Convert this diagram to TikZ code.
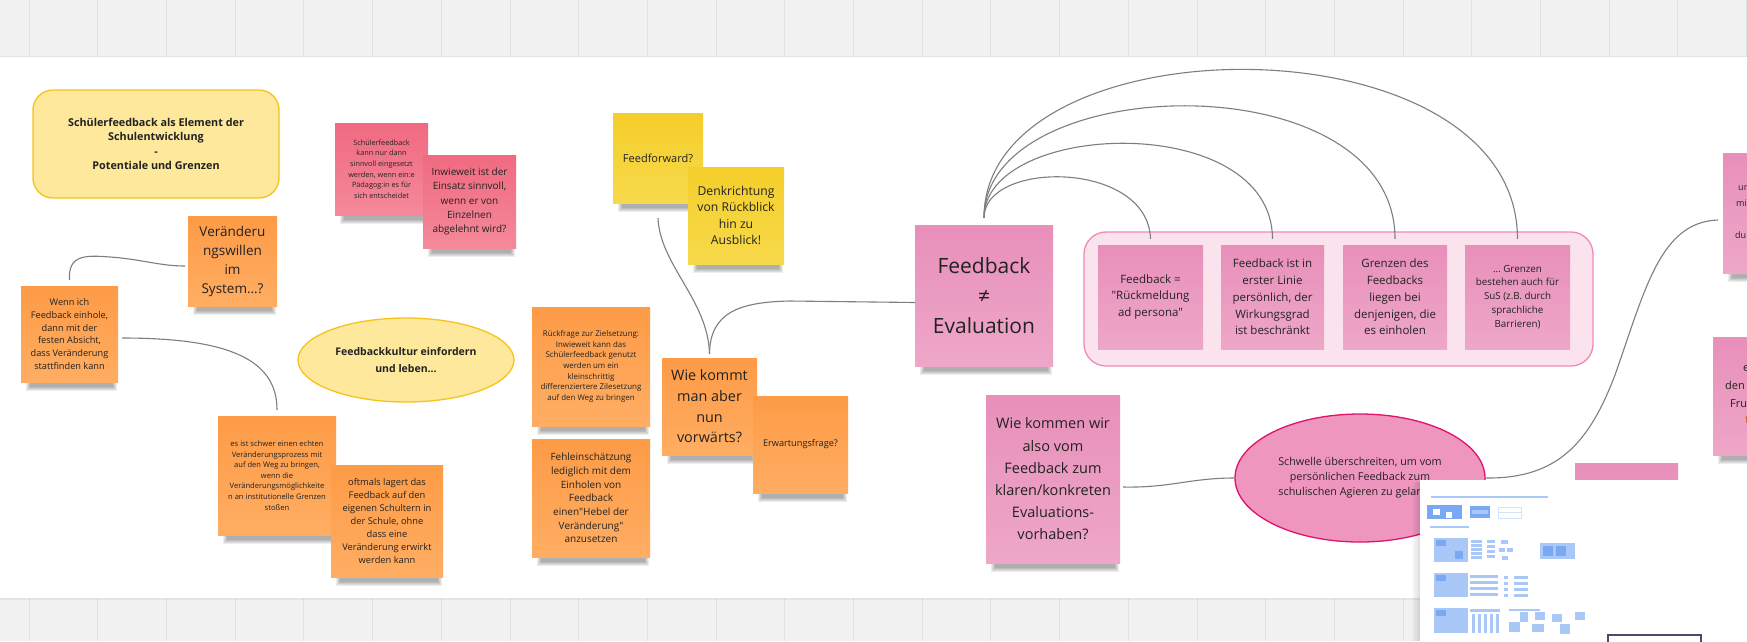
\documentclass[tikz,border=0pt]{standalone}
\usepackage{fontspec}
\setmainfont{Open Sans}[Ligatures=TeXOff]
\usetikzlibrary{shapes.geometric,calc}
\pgfdeclarelayer{bg}
\pgfsetlayers{bg,main}
\definecolor{ink}{HTML}{222222}
\definecolor{gridband}{HTML}{F1F1F1}
\definecolor{gridline}{HTML}{E0E0E0}
\definecolor{or1}{HTML}{FD9B46}
\definecolor{or2}{HTML}{FFAD63}
\definecolor{rd1}{HTML}{F06A80}
\definecolor{rd2}{HTML}{F4899A}
\definecolor{ye1}{HTML}{F4CE2A}
\definecolor{ye2}{HTML}{F7D94B}
\definecolor{pk1}{HTML}{E88FBA}
\definecolor{pk2}{HTML}{EEA7C8}
\definecolor{lightyellow}{HTML}{FDE89C}
\definecolor{goldline}{HTML}{F6C21C}
\definecolor{boxfill}{HTML}{FBE3EE}
\definecolor{boxline}{HTML}{EF8AB6}
\definecolor{ellfill}{HTML}{EF96BF}
\definecolor{ellline}{HTML}{E0126A}
\definecolor{conngray}{HTML}{7E7E7E}
\definecolor{bl1}{HTML}{A9C8F7}
\definecolor{bl2}{HTML}{7AA8F2}
\definecolor{bl3}{HTML}{D3E3FB}
\definecolor{panelrect}{HTML}{4A4A6A}
\definecolor{rusttext}{HTML}{C8642A}
\newcommand\fsz[2]{\fontsize{#1}{#2}\selectfont}
\newcommand\noteshadow[1]{%
\begin{pgfonlayer}{bg}
\foreach \k in {0,...,4}{
\fill[black,opacity=0.07] ([xshift={(5+\k)*1pt},yshift=3pt]#1.south west) rectangle ([xshift={-(1+\k)*1pt},yshift={-(9-\k)*1pt}]#1.south east);
}
\end{pgfonlayer}}
\tikzset{
  notesize/.style 2 args={minimum width=#1pt, minimum height=#2pt},
  note/.style={rectangle, inner sep=1pt, align=center, text=ink},
  orangenote/.style={note, top color=or1, bottom color=or2},
  rednote/.style={note, top color=rd1, bottom color=rd2},
  yellownote/.style={note, top color=ye1, bottom color=ye2},
  pinknote/.style={note, top color=pk1, bottom color=pk2},
  titlebox/.style={rectangle, rounded corners=20pt, fill=lightyellow, draw=goldline, line width=1.3pt, align=center, text=ink},
  yellowell/.style={ellipse, fill=lightyellow, draw=goldline, line width=1.3pt, align=center, text=ink, inner sep=0pt},
  pinkell/.style={ellipse, fill=ellfill, draw=ellline, line width=1.3pt, align=center, text=ink, inner sep=0pt},
  groupbox/.style={rectangle, rounded corners=22pt, fill=boxfill, draw=boxline, line width=1.3pt},
  conn/.style={draw=conngray, line width=1.1pt},
  fragment/.style={anchor=base west, inner sep=0pt, text=ink},
}
\begin{document}
\begin{tikzpicture}[x=1pt,y=-1pt]
\useasboundingbox (0,0) rectangle (1747,641);
\clip (0,0) rectangle (1747,641);
\begin{pgfonlayer}{bg}
\fill[gridband] (0,0) rectangle (1747,641);
\foreach \g in {0,...,25}{
  \draw[gridline, line width=0.8pt] ({29+68.7*\g},0) -- ({29+68.7*\g},641);
}
\fill[black,opacity=0.05] (0,56) rectangle (1747,600);
\fill[white] (0,57) rectangle (1747,598);
\end{pgfonlayer}

% title
\node[titlebox, minimum width=246pt, minimum height=108pt, font=\bfseries\fsz{10.8}{14.3}] (title) at (156,144)
  {Schülerfeedback als Element der\\Schulentwicklung\\-\\Potentiale und Grenzen};

% red notes
\node[rednote, notesize={93}{92}, font=\fsz{7.3}{10.7}] (p1) at (381.5,169)
  {Schülerfeedback\\kann nur dann\\sinnvoll eingesetzt\\werden, wenn ein:e\\Pädagog:in es für\\sich entscheidet};
\noteshadow{p1}
\node[rednote, notesize={93}{93}, font=\fsz{10}{14.2}] (p2) at (469.5,201.5)
  {Inwieweit ist der\\Einsatz sinnvoll,\\wenn er von\\Einzelnen\\abgelehnt wird?};
\noteshadow{p2}

% orange notes left
\node[orangenote, notesize={89}{90}, font=\fsz{13.5}{19}] (o1) at (232.5,261)
  {Veränderu\\ngswillen\\im\\System…?};
\noteshadow{o1}
\node[orangenote, notesize={97}{96}, font=\fsz{9.2}{12.7}] (o2) at (69.5,334)
  {Wenn ich\\Feedback einhole,\\dann mit der\\festen Absicht,\\dass Veränderung\\stattfinden kann};
\noteshadow{o2}

\node[yellowell, minimum width=216pt, minimum height=84pt, font=\bfseries\fsz{10.5}{17}] (kultur) at (406,360)
  {Feedbackkultur einfordern\\und leben...};

\node[orangenote, notesize={118}{119}, font=\fsz{7.6}{10.6}] (o3) at (277,475.5)
  {es ist schwer einen echten\\Veränderungsprozess mit\\auf den Weg zu bringen,\\wenn die\\Veränderungsmöglichkeite\\n an institutionelle Grenzen\\stoßen};
\noteshadow{o3}
\node[orangenote, notesize={112}{112}, font=\fsz{9.3}{12.9}] (o4) at (387,521)
  {oftmals lagert das\\Feedback auf den\\eigenen Schultern in\\der Schule, ohne\\dass eine\\Veränderung erwirkt\\werden kann};
\noteshadow{o4}

% middle
\node[orangenote, notesize={118}{119}, font=\fsz{7.9}{10.6}] (o5) at (591,366.5)
  {Rückfrage zur Zielsetzung:\\Inwieweit kann das\\Schülerfeedback genutzt\\werden um ein\\kleinschrittig\\differenziertere Zilesetzung\\auf den Weg zu bringen};
\noteshadow{o5}
\node[orangenote, notesize={118}{118}, font=\fsz{10}{13.7}] (o6) at (591,498)
  {Fehleinschätzung\\lediglich mit dem\\Einholen von\\Feedback\\einen"Hebel der\\Veränderung"\\anzusetzen};
\noteshadow{o6}

\node[yellownote, notesize={90}{90}, font=\fsz{11}{15}] (y1) at (658,158) {Feedforward?};
\noteshadow{y1}
\node[yellownote, notesize={96}{97}, font=\fsz{12.2}{16.3}] (y2) at (736,215.5)
  {Denkrichtung\\von Rückblick\\hin zu\\Ausblick!};
\noteshadow{y2}

\node[orangenote, notesize={95}{97}, font=\fsz{14.4}{20.6}] (o7) at (709.5,406.5)
  {Wie kommt\\man aber\\nun\\vorwärts?};
\noteshadow{o7}
\node[orangenote, notesize={95}{97}, font=\fsz{9.2}{12}] (o8) at (800.5,444.5) {Erwartungsfrage?};
\noteshadow{o8}

% Feedback != Evaluation
\node[pinknote, notesize={138}{141}, font=\fsz{21}{30}] (fe) at (984,295.5)
  {Feedback\\≠\\Evaluation};
\noteshadow{fe}

\node[groupbox, minimum width=509pt, minimum height=134pt] (grp) at (1338.5,299) {};
\node[pinknote, notesize={105}{104}, font=\fsz{11.5}{16.7}] (s1) at (1150.5,297)
  {Feedback =\\"Rückmeldung\\ad persona"};
\noteshadow{s1}
\node[pinknote, notesize={103}{104}, font=\fsz{11.5}{16.8}] (s2) at (1272.5,297)
  {Feedback ist in\\erster Linie\\persönlich, der\\Wirkungsgrad\\ist beschränkt};
\noteshadow{s2}
\node[pinknote, notesize={104}{104}, font=\fsz{11.5}{16.8}] (s3) at (1395,297)
  {Grenzen des\\Feedbacks\\liegen bei\\denjenigen, die\\es einholen};
\noteshadow{s3}
\node[pinknote, notesize={105}{104}, font=\fsz{9.8}{13.8}] (s4) at (1517.5,297)
  {… Grenzen\\bestehen auch für\\SuS (z.B. durch\\sprachliche\\Barrieren)};
\noteshadow{s4}

\node[pinknote, notesize={134}{168}, font=\fsz{14.5}{22.2}] (wk) at (1053,479)
  {Wie kommen wir\\also vom\\Feedback zum\\klaren/konkreten\\Evaluations-\\vorhaben?};
\noteshadow{wk}

\node[pinkell, minimum width=250pt, minimum height=128pt, font=\fsz{10.8}{15}] (el) at (1360,478)
  {Schwelle überschreiten, um vom\\persönlichen Feedback zum\\schulischen Agieren zu gelangen};

% right edge notes (cut off)
\node[pinknote, notesize={47}{120}] (r1) at (1746.5,213) {};
\noteshadow{r1}
\node[fragment, font=\fsz{9}{12}] (r1a) at (1738,190) {un};
\node[fragment, font=\fsz{9}{12}] (r1b) at (1736,206) {mi};
\node[fragment, font=\fsz{9}{12}] (r1c) at (1735,238) {du};
\node[pinknote, notesize={57}{118}] (r2) at (1741.5,396) {};
\noteshadow{r2}
\node[fragment, font=\fsz{11}{14}] (r2a) at (1743,371) {e};
\node[fragment, font=\fsz{11}{14}] (r2b) at (1725,389) {den};
\node[fragment, font=\fsz{11}{14}] (r2c) at (1730,407) {Fru};
\node[fragment, font=\fsz{11}{14}, text=rusttext] (r2d) at (1745,423) {t};
\node[pinknote, notesize={103}{96}] (r3) at (1626.5,511) {};

% connectors
\draw[conn] ([yshift=6pt]o2.north) .. controls (68,255) and (85,255) .. (110,257)
  .. controls (140,259) and (160,266) .. ([xshift=-3pt,yshift=-5pt]o1.west);
\draw[conn] ([xshift=4pt,yshift=-4pt]o2.east) .. controls (230,338) and (277,360) .. ([yshift=6pt]o3.north);
\draw[conn] ([yshift=-15pt]y1.south) .. controls (660,265) and (708,300) .. ([yshift=4pt]o7.north);
\draw[conn] ([yshift=4pt]o7.north) .. controls (710,312) and (740,302) .. (790,301) -- ([yshift=-7pt]fe.west);
\draw[conn] ([yshift=7pt]fe.north) .. controls (984,160) and (1148,160) .. ([yshift=6pt]s1.north);
\draw[conn] ([yshift=7pt]fe.north) .. controls (984,120) and (1272,110) .. ([yshift=6pt]s2.north);
\draw[conn] ([yshift=7pt]fe.north) .. controls (984,70) and (1395,60) .. ([yshift=6pt]s3.north);
\draw[conn] ([yshift=7pt]fe.north) .. controls (984,18) and (1517,15) .. ([yshift=6pt]s4.north);
\draw[conn] ([xshift=3pt,yshift=-8pt]wk.east) .. controls (1170,488) and (1190,478) .. (el.west);
\draw[conn] (el.east) .. controls (1560,479) and (1590,440) .. (1615,375)
  .. controls (1645,290) and (1660,222) .. ([xshift=-5pt,yshift=-7pt]r1.west);

% template panel (covering)
\foreach \k in {1,...,5}{
  \fill[black,opacity=0.025] ({1420-\k*1.6},482) rectangle (1420,641);
}
\fill[white] (1420,480) rectangle (1747,641);
\draw[bl1, line width=1.5pt] (1431,497) -- (1548,497);
\fill[bl2] (1427,505) rectangle (1462,519);
\fill[white] (1433,509) rectangle (1440,515);
\fill[white] (1446,512) rectangle (1452,518);
\fill[bl2] (1470,506) rectangle (1490,518);
\fill[bl1] (1472,510) rectangle (1488,514);
\draw[bl3, line width=1pt] (1498,507) rectangle (1521,518);
\draw[bl3, line width=1pt] (1498,512) -- (1521,512);
\draw[bl1, line width=1.2pt] (1430,527) -- (1469,527);
% row 1
\fill[bl1] (1434,538) rectangle (1468,562);
\fill[bl2] (1436,540) rectangle (1446,546);
\fill[bl2] (1455,551) rectangle (1463,559);
\foreach \yy in {540,544,...,556}{ \fill[bl1] (1471,\yy) rectangle (1482,{\yy+2.5}); }
\foreach \yy in {540,545,...,555}{ \fill[bl1] (1487,\yy) rectangle (1495,{\yy+3}); }
\fill[bl1] (1501,540) rectangle (1508,544);
\fill[bl1] (1499,548) rectangle (1505,552);
\fill[bl1] (1507,548) rectangle (1513,552);
\fill[bl1] (1502,556) rectangle (1508,560);
\fill[bl1] (1540,543) rectangle (1575,559);
\fill[bl2] (1543,546) rectangle (1553,556);
\fill[bl2] (1556,546) rectangle (1566,556);
% row 2
\fill[bl1] (1434,573) rectangle (1468,597);
\fill[bl2] (1436,575) rectangle (1446,581);
\foreach \yy in {575,581,...,593}{ \fill[bl1] (1470,\yy) rectangle (1498,{\yy+3}); }
\foreach \yy in {576,582,...,594}{ \fill[bl1] (1504,\yy) rectangle (1508,{\yy+3}); \fill[bl1] (1514,\yy) rectangle (1528,{\yy+3}); }
% row 3
\fill[bl1] (1434,608) rectangle (1468,633);
\fill[bl2] (1436,610) rectangle (1446,616);
\fill[bl1] (1470,609) rectangle (1500,612);
\foreach \xx in {1472,1478,...,1496}{ \fill[bl1] (\xx,614) rectangle ({\xx+3},633); }
\fill[bl1] (1509,609) rectangle (1540,611);
\fill[bl1] (1520,612) rectangle (1528,622);
\fill[bl1] (1509,622) rectangle (1520,632);
\fill[bl1] (1535,612) rectangle (1545,620);
\fill[bl1] (1532,624) rectangle (1544,632);
\fill[bl1] (1552,614) rectangle (1562,622);
\fill[bl1] (1560,624) rectangle (1570,634);
\fill[bl1] (1575,612) rectangle (1585,620);
\draw[panelrect, line width=1.5pt, fill=white] (1608,635) rectangle (1701,650);
\end{tikzpicture}
\end{document}
